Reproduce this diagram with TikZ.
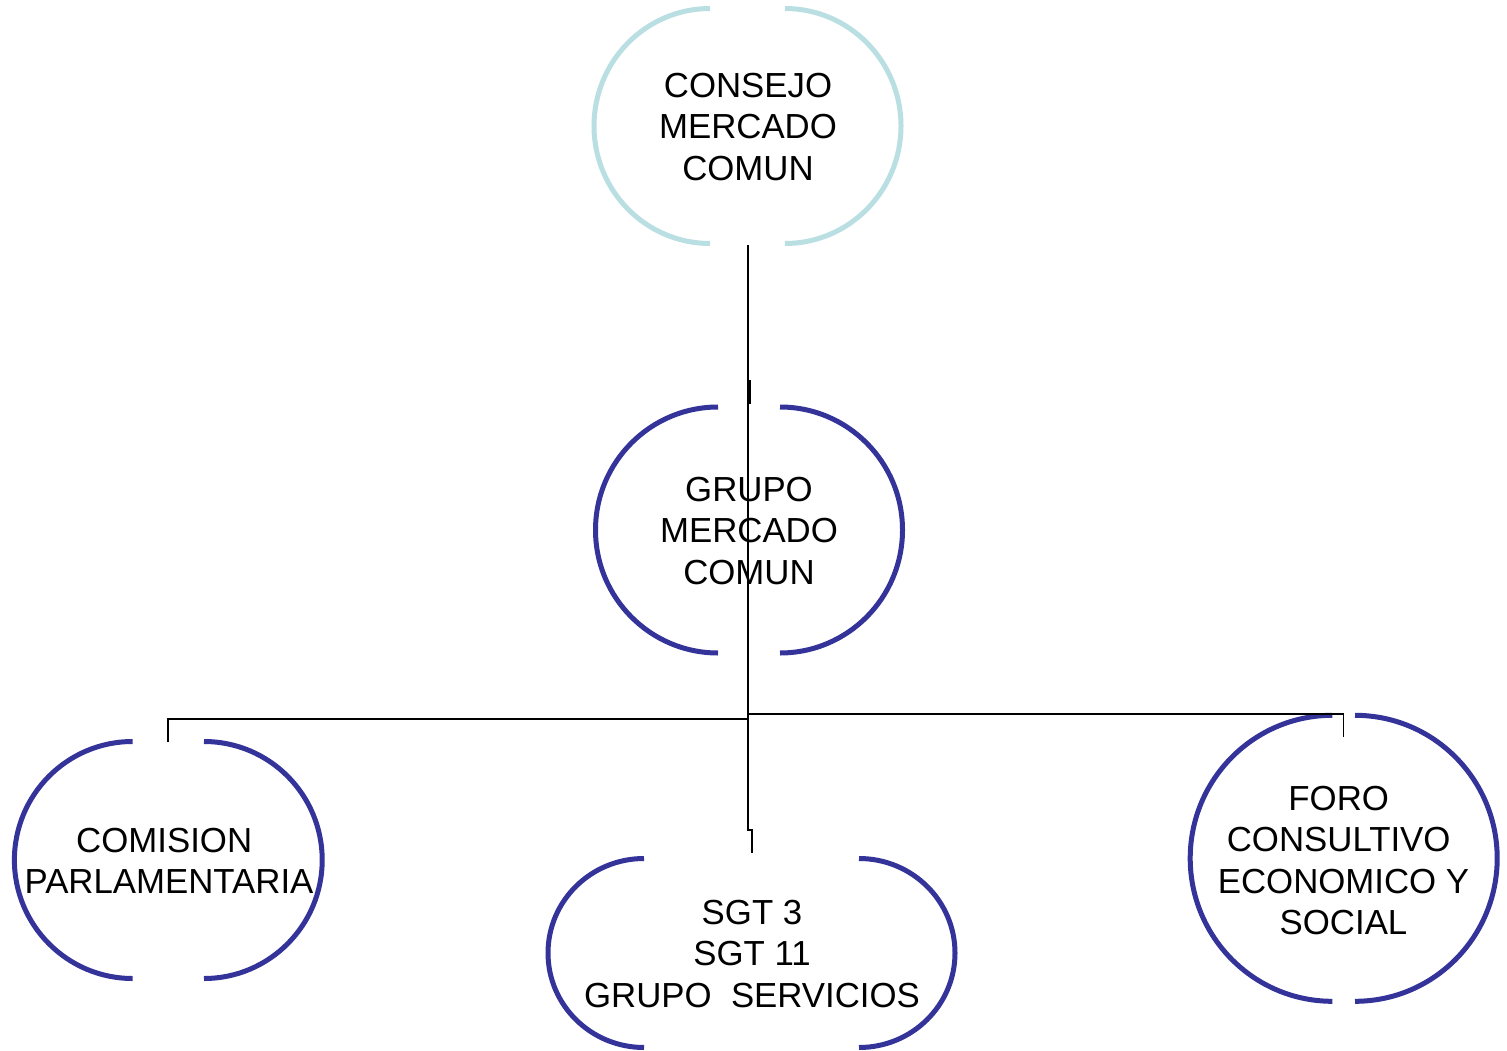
\documentclass[tikz,border=0pt]{standalone}
\usepackage{fontspec}
\setmainfont{Liberation Sans}
\definecolor{lightoval}{HTML}{BADFE3}
\definecolor{darkoval}{HTML}{333399}
\newcommand\gapoval[6]{%
  \draw[ovalline,#1] (#2-#4,-#3+#6) arc[start angle=90,end angle=270,x radius=#5pt,y radius=#6pt];
  \draw[ovalline,#1] (#2+#4,-#3-#6) arc[start angle=-90,end angle=90,x radius=#5pt,y radius=#6pt];
}
\newcommand\trsp{\rule{0.278em}{0pt}}
\tikzset{
  ovalline/.style={line width=5pt,line cap=butt},
  conn/.style={draw=black,line width=1.8pt},
  lbl/.style={inner sep=0pt,align=center,text=black,
    font=\fontsize{34.8}{41.5}\selectfont}
}
\begin{document}
\begin{tikzpicture}[x=1pt,y=1pt]
\useasboundingbox (0,0) rectangle (1507,-1051);
\fill[white] (0,0) rectangle (1507,-1051);

% ovals
\gapoval{lightoval}{747.5}{126}{37.5}{116}{117.5}
\gapoval{darkoval}{749}{530}{31}{122.5}{123}
\gapoval{darkoval}{751.5}{953}{107.5}{96}{94.5}
\gapoval{darkoval}{168.3}{860}{35.7}{118.2}{118.5}
\gapoval{darkoval}{1343.7}{858.3}{11.3}{142.2}{143}

% labels
\node[lbl] (n1) at (748,-127) {CONSEJO\\MERCADO\\COMUN};
\node[lbl] (n2) at (749,-531) {GRUPO\\MERCADO\\COMUN};
\node[lbl] (n3) at (752,-954) {SGT 3\\SGT 11\\GRUPO\ \ SERVICIOS};
\node[lbl] (n4) at (169,-861) {COMISION\trsp\\PARLAMENTARIA};
\node[lbl] (n5) at (1343.5,-860.5) {FORO\trsp\\CONSULTIVO\trsp\\ECONOMICO Y\\SOCIAL};

% connector points
\coordinate (n1b) at (748,-245);
\coordinate (j2) at (748,-381);
\coordinate (n2t) at (749.7,-404);
\coordinate (hub) at (748,-718.7);
\coordinate (hubR) at (748,-714.2);
\coordinate (n4t) at (168.3,-742);
\coordinate (n5t) at (1343.5,-737);
\coordinate (j3) at (748,-830);
\coordinate (n3t) at (752,-853);

% connectors
\draw[conn] (n1b) -- (hub);
\draw[conn] (j2) -| (n2t);
\draw[conn] (hub) -| (n4t);
\draw[conn] (hubR) -| (n5t);
\draw[conn] (hub) -- (j3) -| (n3t);
\end{tikzpicture}
\end{document}
